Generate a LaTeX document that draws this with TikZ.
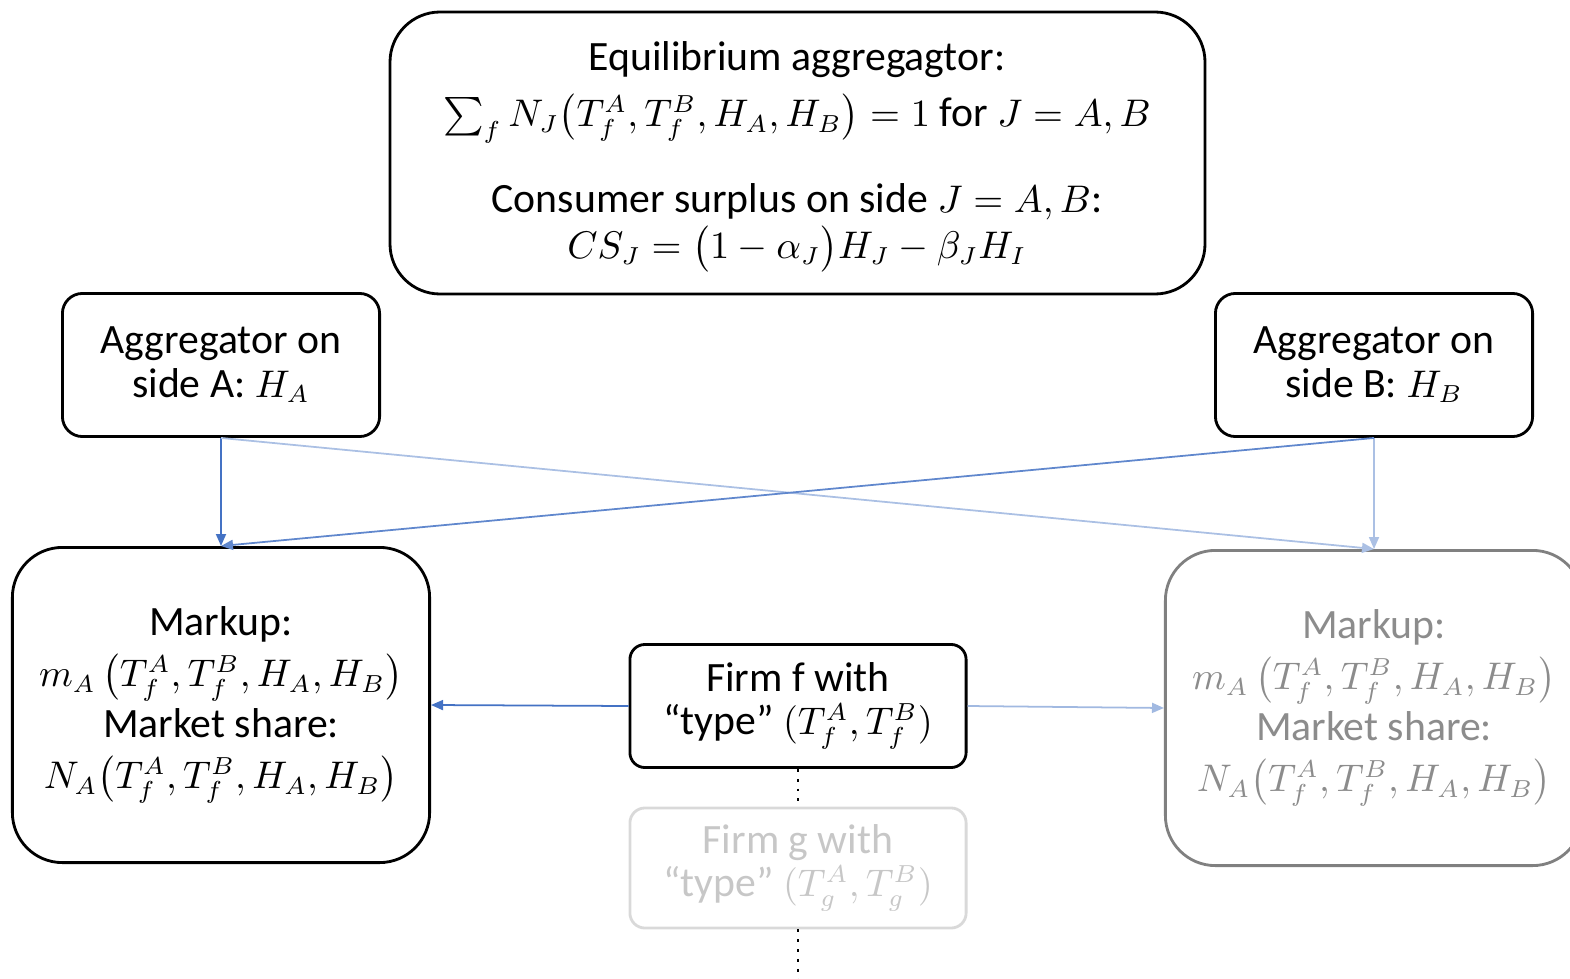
\documentclass[tikz,border=0pt]{standalone}
\usepackage{amsmath}
\usepackage{fontspec}
\setmainfont{Carlito}[Scale=1.13]
\usepackage{xcolor}
\usetikzlibrary{arrows.meta}
\definecolor{officeblue}{RGB}{68,114,196}

\begin{document}
\begin{tikzpicture}[x=0.01cm,y=-0.01cm,
    box/.style={draw,line width=0.8pt,rounded corners=#1,align=center,inner sep=0pt,
      font=\fontsize{10.5}{14.5}\selectfont},
    box/.default=5mm,
    tight/.style={font=\fontsize{10.5}{12.3}\selectfont},
    link/.style={-{Triangle[length=1.2mm,width=1mm]},line width=0.5pt,officeblue}]
    \useasboundingbox (0,0) rectangle (1570,979);
    \draw[line width=0.8pt,rounded corners=5mm] (390,12) rectangle (1205,294);
    \node[align=center,inner sep=0pt,font=\fontsize{10.5}{14.5}\selectfont] (equil) at (797,157)
      {Equilibrium aggregagtor:\\[0.5mm]
       $\sum_f N_J\bigl(T_f^A,T_f^B,H_A,H_B\bigr)=1$ for $J=A,B$\\[3.5mm]
       Consumer surplus on side $J=A,B$:\\[-0.5mm]
       $CS_J=\bigl(1-\alpha_J\bigr)H_J-\beta_J H_I$};
    \node[box=2mm,tight,minimum width=3.17cm,minimum height=1.43cm] (aggA) at (221,365)
      {Aggregator on\\side A: $H_A$};
    \node[box=2mm,tight,minimum width=3.17cm,minimum height=1.43cm] (aggB) at (1374,365)
      {Aggregator on\\side B: $H_B$};
    \node[box,minimum width=4.17cm,minimum height=3.15cm] (markA) at (221,705)
      {Markup:\\ $m_A\left(T_f^A,T_f^B,H_A,H_B\right)$\\
       Market share:\\ $N_A\bigl(T_f^A,T_f^B,H_A,H_B\bigr)$};
    \node[box,draw=black!50,text=black!45,minimum width=4.17cm,minimum height=3.15cm] (markB) at (1374,708)
      {Markup:\\ $m_A\left(T_f^A,T_f^B,H_A,H_B\right)$\\
       Market share:\\ $N_A\bigl(T_f^A,T_f^B,H_A,H_B\bigr)$};
    \node[box=1.5mm,tight,minimum width=3.36cm,minimum height=1.23cm] (firmF) at (798,706)
      {Firm f with\\“type” $(T_f^A,T_f^B)$};
    \node[box=1.5mm,tight,draw=black!15,text=black!22,minimum width=3.36cm,minimum height=1.2cm] (firmG) at (798,868)
      {Firm g with\\“type” $(T_g^A,T_g^B)$};
    \coordinate (tail) at (798,979);
    % links between the aggregators and the two sides
    \draw[link] (aggA.south) -- (markA.north);
    \draw[link,officeblue!45] (aggB.south) -- (markB.north);
    \draw[link,officeblue!45] (aggA.south) -- (markB.north);
    \draw[link,officeblue!85] (aggB.south) -- (markA.north);
    \draw[link] (firmF.west) -- (markA.east);
    \draw[link,officeblue!50] (firmF.east) -- (markB.west);
    % more firms below
    \draw[dotted,line width=0.8pt] (firmF.south) -- (firmG.north);
    \draw[dotted,line width=0.8pt] (firmG.south) -- (tail);
\end{tikzpicture}
\end{document}
